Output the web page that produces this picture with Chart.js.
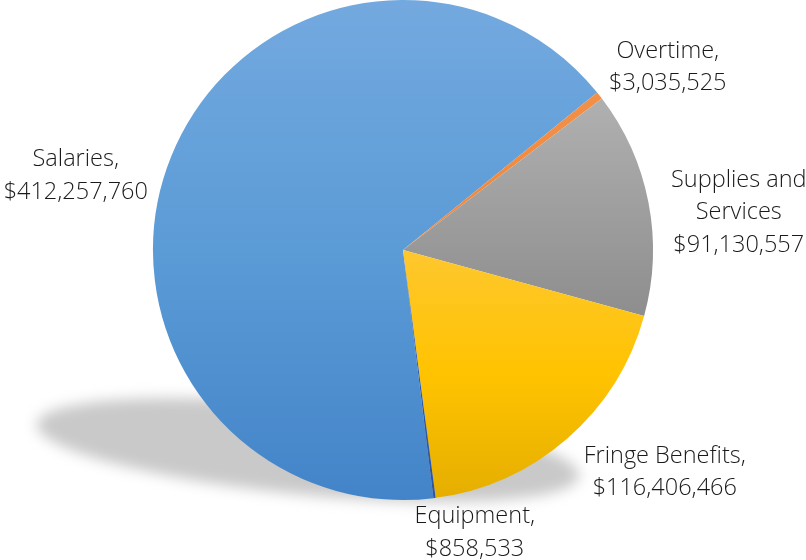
<!DOCTYPE html>
<html>
<head>
<meta charset="utf-8">
<script src="https://cdn.jsdelivr.net/npm/chart.js@4/dist/chart.umd.min.js"></script>
<style>
  html, body { margin: 0; padding: 0; background: #ffffff; }
  #wrap { width: 806px; height: 560px; }
</style>
</head>
<body>
<div id="wrap"><canvas id="c" width="806" height="560"></canvas></div>
<script>
// Budget categories and amounts (dollars)
const categories = ['Salaries', 'Overtime', 'Supplies and Services', 'Fringe Benefits', 'Equipment'];
const amounts = [412257760, 3035525, 91130557, 116406466, 858533];

// How each category name is broken into lines in its label
const labelLines = [
  ['Salaries,'],
  ['Overtime,'],
  ['Supplies and', 'Services'],
  ['Fringe Benefits,'],
  ['Equipment,']
];

// Slice fills: colour stops of each vertical gradient (top -> bottom of the pie)
const fillStops = [
  [[0, '#73a9df'], [0.5, '#5b9bd6'], [1, '#4384c9']],
  [[0, '#f5954e'], [1, '#e8782a']],
  [[0, '#c0c0c0'], [1, '#707070']],
  [[0, '#ffd466'], [0.5, '#fec72e'], [0.75, '#ffc300'], [1, '#e5ae00']],
  [[0, '#3f6fbf'], [1, '#2b559f']]
];

// Label anchors (first baseline, centred) in units of the pie radius from its centre
const labelAnchor = [
  [-1.309, -0.336],
  [ 1.059, -0.769],
  [ 1.343, -0.253],
  [ 1.047,  0.851],
  [ 0.287,  1.092]
];

const money = v => '$' + v.toLocaleString('en-US');

// Soft ground shadow cast to the lower left of the pie
const groundShadow = {
  id: 'groundShadow',
  beforeDatasetsDraw(chart) {
    const arc = chart.getDatasetMeta(0).data[0];
    if (!arc) return;
    const { x, y, outerRadius: r } = arc.getProps(['x', 'y', 'outerRadius'], true);
    const ctx = chart.ctx;
    ctx.save();
    ctx.filter = 'blur(7px)';
    ctx.fillStyle = '#c9c9c9';
    ctx.beginPath();
    ctx.ellipse(x - 0.38 * r, y + 0.8 * r, 1.09 * r, 0.18 * r, 5.5 * Math.PI / 180, 0, Math.PI * 2);
    ctx.fill();
    ctx.restore();
  }
};

// Category name and amount written beside each slice
const sliceLabels = {
  id: 'sliceLabels',
  afterDatasetsDraw(chart) {
    const arc = chart.getDatasetMeta(0).data[0];
    if (!arc) return;
    const { x, y, outerRadius: r } = arc.getProps(['x', 'y', 'outerRadius'], true);
    const ctx = chart.ctx;
    ctx.save();
    ctx.font = '300 23.5px "Open Sans", sans-serif';
    ctx.fillStyle = '#1a1a1a';
    ctx.textAlign = 'center';
    ctx.textBaseline = 'alphabetic';
    const lineH = 32.5;
    categories.forEach((name, i) => {
      const lines = labelLines[i].concat([money(amounts[i])]);
      const lx = x + labelAnchor[i][0] * r;
      const ly = y + labelAnchor[i][1] * r;
      lines.forEach((t, k) => ctx.fillText(t, lx, ly + k * lineH));
    });
    ctx.restore();
  }
};

function sliceFill(ctx) {
  const chart = ctx.chart;
  const area = chart.chartArea;
  const stops = fillStops[ctx.dataIndex];
  if (!area) return stops[0][1];
  const g = chart.ctx.createLinearGradient(0, area.top, 0, area.bottom);
  stops.forEach(([p, c]) => g.addColorStop(p, c));
  return g;
}

new Chart(document.getElementById('c'), {
  type: 'pie',
  data: {
    labels: categories,
    datasets: [{
      data: amounts,
      backgroundColor: sliceFill,
      borderWidth: 0
    }]
  },
  options: {
    responsive: false,
    devicePixelRatio: 1,
    animation: false,
    rotation: 173,
    layout: { padding: { top: 0, bottom: 60, left: 0, right: 0 } },
    plugins: {
      legend: { display: false },
      tooltip: { enabled: false }
    }
  },
  plugins: [groundShadow, sliceLabels]
});
</script>
</body>
</html>
